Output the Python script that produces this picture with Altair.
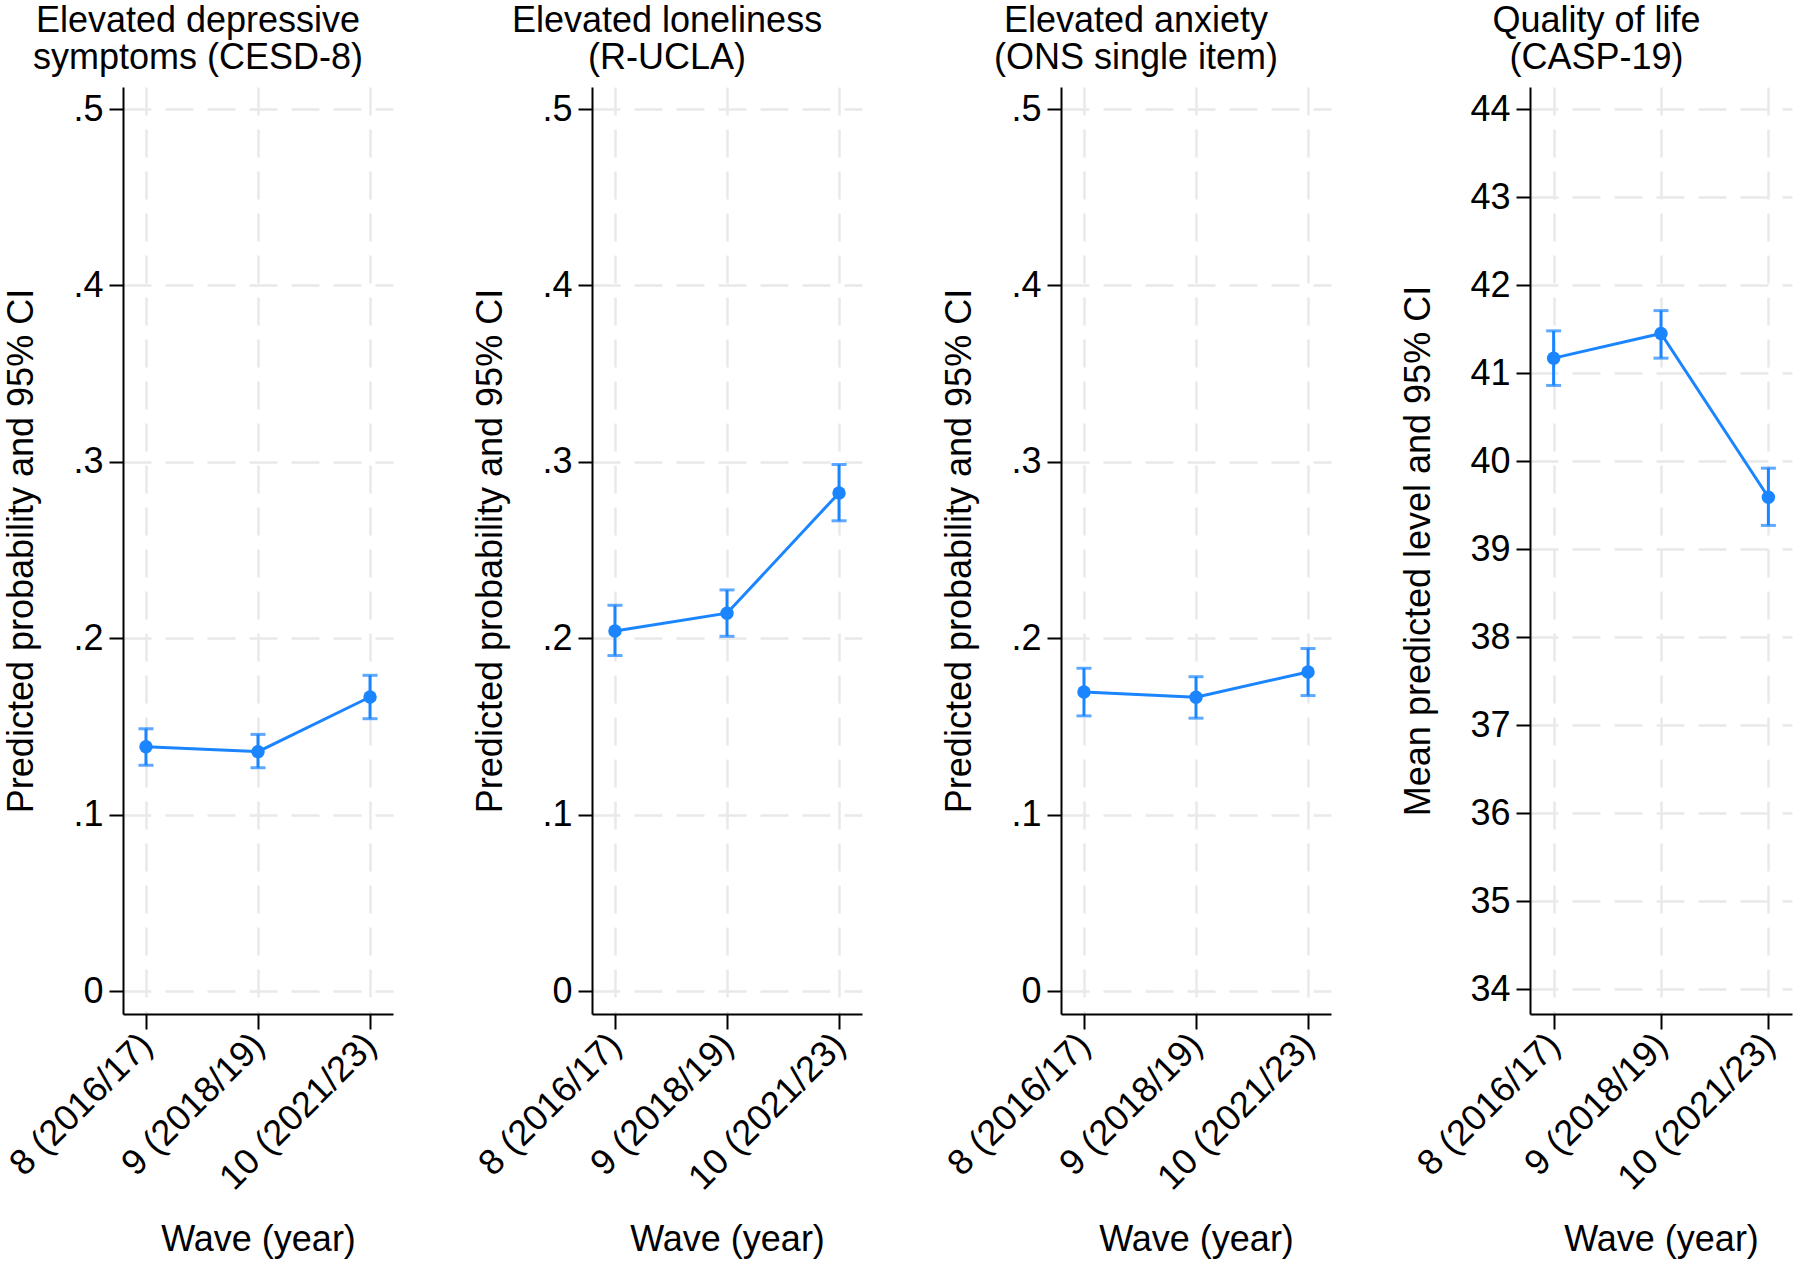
import altair as alt
import pandas as pd

# Survey waves shown on the x axis
waves = ["8 (2016/17)", "9 (2018/19)", "10 (2021/23)"]

# Elevated depressive symptoms (CESD-8): predicted probability and 95% CI
dep_est = [0.1385, 0.1357, 0.1667]
dep_lo = [0.1280, 0.1266, 0.1544]
dep_hi = [0.1487, 0.1455, 0.1790]

# Elevated loneliness (R-UCLA)
lon_est = [0.2041, 0.2142, 0.2824]
lon_lo = [0.1902, 0.2011, 0.2666]
lon_hi = [0.2187, 0.2274, 0.2985]

# Elevated anxiety (ONS single item)
anx_est = [0.1696, 0.1666, 0.1809]
anx_lo = [0.1560, 0.1547, 0.1675]
anx_hi = [0.1830, 0.1782, 0.1942]

# Quality of life (CASP-19): mean predicted level and 95% CI
qol_est = [41.17, 41.45, 39.59]
qol_lo = [40.86, 41.17, 39.27]
qol_hi = [41.48, 41.71, 39.92]

prob_ticks = [0, 0.1, 0.2, 0.3, 0.4, 0.5]
qol_ticks = [34, 35, 36, 37, 38, 39, 40, 41, 42, 43, 44]

BLUE = "#1a85ff"
GRID = "#e9e9e9"
FONT = "Liberation Sans"
FS = 36
PLOT_H = 927


def panel(title_lines, y_title, est, lo, hi, domain, ticks, label_expr, width, pad):
    df = pd.DataFrame({"wave": waves, "est": est, "lo": lo, "hi": hi})
    x_axis = alt.Axis(
        title="Wave (year)",
        labelAngle=-45,
        labelAlign="right",
        labelBaseline="middle",
        labelPadding=10,
        labelLimit=0,
        titlePadding=26,
        grid=True,
        gridDash=[28, 14],
        gridColor=GRID,
        gridWidth=2.5,
        tickSize=15,
    )
    y_axis = alt.Axis(
        title=y_title,
        values=ticks,
        labelExpr=label_expr,
        grid=True,
        gridDash=[28, 14],
        gridColor=GRID,
        gridWidth=2.5,
        tickSize=14,
        labelPadding=6,
        titlePadding=32,
    )
    x = alt.X("wave:N", sort=waves, scale=alt.Scale(type="point", padding=pad), axis=x_axis)
    y_scale = alt.Scale(domain=domain, nice=False, zero=False)

    base = alt.Chart(df).encode(x=x)
    bars = base.mark_rule(color=BLUE, strokeWidth=3).encode(
        y=alt.Y("lo:Q", title=y_title, scale=y_scale, axis=y_axis), y2="hi:Q"
    )
    cap_lo = base.mark_tick(color=BLUE, thickness=3, size=15).encode(
        y=alt.Y("lo:Q", title=y_title, scale=y_scale)
    )
    cap_hi = base.mark_tick(color=BLUE, thickness=3, size=15).encode(
        y=alt.Y("hi:Q", title=y_title, scale=y_scale)
    )
    line = base.mark_line(color=BLUE, strokeWidth=3).encode(
        y=alt.Y("est:Q", title=y_title, scale=y_scale)
    )
    dots = base.mark_circle(color=BLUE, size=180, opacity=1).encode(
        y=alt.Y("est:Q", title=y_title, scale=y_scale)
    )
    return alt.layer(bars, cap_lo, cap_hi, line, dots).properties(
        width=width,
        height=PLOT_H,
        title=alt.Title(
            title_lines,
            fontSize=FS,
            font=FONT,
            fontWeight="normal",
            color="black",
            anchor="middle",
            frame="bounds",
            lineHeight=37,
            offset=10,
        ),
    )


prob_label = "datum.value == 0 ? '0' : replace(format(datum.value, '.1f'), '0.', '.')"
prob_domain = [-0.013, 0.5125]

p1 = panel(["Elevated depressive", "symptoms (CESD-8)"], "Predicted probability and 95% CI",
           dep_est, dep_lo, dep_hi, prob_domain, prob_ticks, prob_label, 270, 0.205)
p2 = panel(["Elevated loneliness", "(R-UCLA)"], "Predicted probability and 95% CI",
           lon_est, lon_lo, lon_hi, prob_domain, prob_ticks, prob_label, 270, 0.205)
p3 = panel(["Elevated anxiety", "(ONS single item)"], "Predicted probability and 95% CI",
           anx_est, anx_lo, anx_hi, prob_domain, prob_ticks, prob_label, 270, 0.205)
p4 = panel(["Quality of life", "(CASP-19)"], "Mean predicted level and 95% CI",
           qol_est, qol_lo, qol_hi, [33.72, 44.25], qol_ticks, "format(datum.value, 'd')", 262, 0.22)

chart = (
    alt.hconcat(p1, p2, p3, p4, spacing=199, bounds="flush")
    .properties(padding={"left": 3, "top": 3, "right": 5, "bottom": 5}, background="white")
    .configure_view(stroke=None)
    .configure_axis(
        labelFont=FONT,
        titleFont=FONT,
        labelFontSize=FS,
        titleFontSize=FS,
        titleFontWeight="normal",
        labelColor="black",
        titleColor="black",
        domainColor="black",
        domainWidth=2,
        tickColor="black",
        tickWidth=2,
        labelOverlap=False,
    )
)

chart.save("out.html", embed_options={"renderer": "svg", "actions": False})
